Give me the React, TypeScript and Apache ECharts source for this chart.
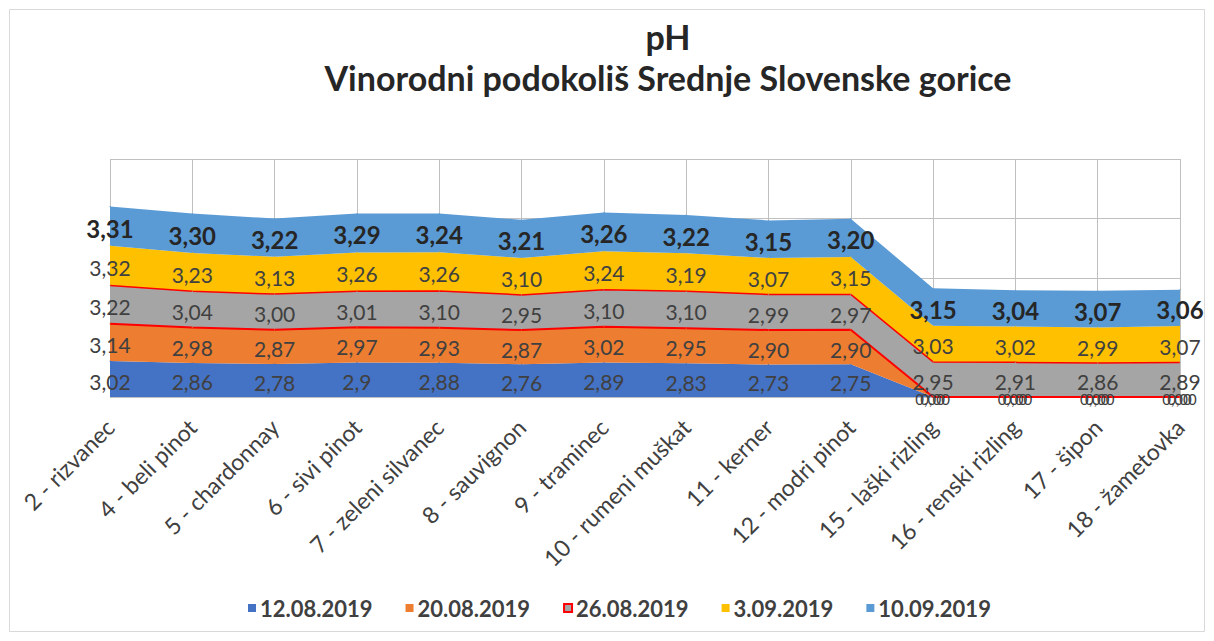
import React, { useEffect, useRef } from "react";
import * as echarts from "echarts";

const categories = [
  "2 - rizvanec",
  "4 - beli pinot",
  "5 - chardonnay",
  "6 - sivi pinot",
  "7 - zeleni silvanec",
  "8 - sauvignon",
  "9 - traminec",
  "10 - rumeni muškat",
  "11 - kerner",
  "12 - modri pinot",
  "15 - laški rizling",
  "16 - renski rizling",
  "17 - šipon",
  "18 - žametovka",
];

const s1208 = [3.02, 2.86, 2.78, 2.9, 2.88, 2.76, 2.89, 2.83, 2.73, 2.75, 0, 0, 0, 0];
const s2008 = [3.14, 2.98, 2.87, 2.97, 2.93, 2.87, 3.02, 2.95, 2.9, 2.9, 0, 0, 0, 0];
const s2608 = [3.22, 3.04, 3.0, 3.01, 3.1, 2.95, 3.1, 3.1, 2.99, 2.97, 2.95, 2.91, 2.86, 2.89];
const s0309 = [3.32, 3.23, 3.13, 3.26, 3.26, 3.1, 3.24, 3.19, 3.07, 3.15, 3.03, 3.02, 2.99, 3.07];
const s1009 = [3.31, 3.3, 3.22, 3.29, 3.24, 3.21, 3.26, 3.22, 3.15, 3.2, 3.15, 3.04, 3.07, 3.06];

const seriesNames = ["12.08.2019", "20.08.2019", "26.08.2019", "3.09.2019", "10.09.2019"];

const FONT = "Lato, 'Open Sans', sans-serif";
const GRID_TOP = 159;
const GRID_BOTTOM_Y = 397;
const Y_MAX = 20;
const PX_PER_UNIT = (GRID_BOTTOM_Y - GRID_TOP) / Y_MAX;

const fmtGeneral = (v: number) => String(v).replace(".", ",");
const fmtFixed = (v: number) => v.toFixed(2).replace(".", ",");

export default function App() {
  const ref = useRef<HTMLDivElement>(null);
  useEffect(() => {
    if (!ref.current) return;
    const chart = echarts.init(ref.current, undefined, { renderer: "svg" });

    const mkData = (vals: number[], zeroShift: number) =>
      vals.map((v) =>
        v === 0
          ? { value: v, label: { offset: [zeroShift, 2], fontSize: 15 } }
          : { value: v, label: { offset: [0, (v * PX_PER_UNIT) / 2 + 2] } }
      );

    const mkSeries = (
      name: string,
      vals: number[],
      color: string,
      fmt: (v: number) => string,
      lineColor: string | null,
      lineWidth: number,
      bold: boolean,
      zeroShift: number
    ) => ({
      name,
      type: "line",
      stack: "total",
      data: mkData(vals, zeroShift),
      symbol: "circle",
      symbolSize: 1,
      showSymbol: true,
      itemStyle: { color },
      lineStyle: lineColor ? { color: lineColor, width: lineWidth } : { width: 0, opacity: 0 },
      areaStyle: { color, opacity: 1 },
      label: {
        show: true,
        position: "inside",
        formatter: (p: any) => fmt(p.value),
        fontSize: bold ? 24 : 21,
        fontWeight: bold ? "bold" : "normal",
        color: bold ? "#262626" : "#404040",
        fontFamily: FONT,
      },
      emphasis: { disabled: true },
    });

    const fmtBlue = (v: number) => (v === 0 ? fmtFixed(v) : fmtGeneral(v));

    chart.setOption({
      animation: false,
      backgroundColor: "#ffffff",
      title: {
        text: "pH\nVinorodni podokoliš Srednje Slovenske gorice",
        left: 663,
        top: 11,
        textAlign: "center",
        textStyle: {
          fontFamily: FONT,
          fontSize: 34,
          fontWeight: "bold",
          color: "#262626",
          lineHeight: 41,
        },
      },
      legend: {
        left: 243,
        top: 592,
        itemWidth: 8,
        itemHeight: 8,
        itemGap: 33,
        icon: "rect",
        textStyle: { fontFamily: FONT, fontSize: 22, fontWeight: "bold", color: "#404040", padding: [0, 0, 0, -1] },
        data: [
          { name: seriesNames[0] },
          { name: seriesNames[1] },
          { name: seriesNames[2], itemStyle: { borderColor: "#ff0000", borderWidth: 2 } },
          { name: seriesNames[3] },
          { name: seriesNames[4] },
        ],
      },
      grid: { left: 110, right: 34, top: GRID_TOP, bottom: 641 - GRID_BOTTOM_Y, containLabel: false },
      xAxis: {
        type: "category",
        data: categories,
        boundaryGap: false,
        axisLine: { show: false },
        axisTick: { show: false },
        splitLine: { show: true, lineStyle: { color: "#c0c0c0", width: 1 } },
        axisLabel: {
          rotate: 45,
          fontSize: 23,
          fontFamily: FONT,
          color: "#404040",
          margin: 26,
          interval: 0,
        },
      },
      yAxis: {
        type: "value",
        min: 0,
        max: Y_MAX,
        interval: 5,
        axisLine: { show: false },
        axisTick: { show: false },
        axisLabel: { show: false },
        splitLine: { show: true, lineStyle: { color: "#c0c0c0", width: 1 } },
      },
      graphic: [
        {
          type: "rect",
          shape: { x: 9.5, y: 9.5, width: 1195, height: 622 },
          style: { fill: "none", stroke: "#d9d9d9", lineWidth: 1 },
          silent: true,
        },
      ],
      series: [
        mkSeries(seriesNames[0], s1208, "#4472C4", fmtBlue, null, 0, false, -3),
        mkSeries(seriesNames[1], s2008, "#ED7D31", fmtFixed, "#ff0000", 2, false, 2),
        mkSeries(seriesNames[2], s2608, "#A5A5A5", fmtFixed, "#ff0000", 1.5, false, 0),
        mkSeries(seriesNames[3], s0309, "#FFC000", fmtFixed, null, 0, false, 0),
        mkSeries(seriesNames[4], s1009, "#5B9BD5", fmtFixed, null, 0, true, 0),
      ],
    });
    return () => chart.dispose();
  }, []);
  return (
    <div
      ref={ref}
      style={{ position: "fixed", left: 0, top: 0, width: 1214, height: 641 }}
    />
  );
}
